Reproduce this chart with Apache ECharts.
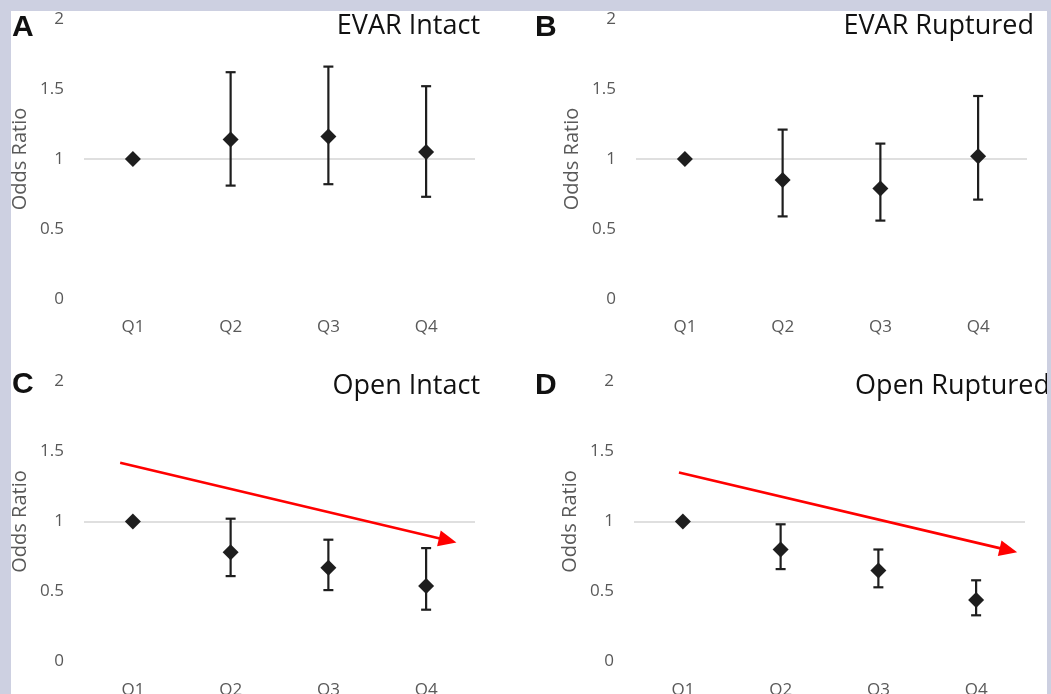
<!DOCTYPE html>
<html>
<head>
<meta charset="utf-8">
<title>Odds Ratio by quartile</title>
<script src="https://cdn.jsdelivr.net/npm/echarts@6/dist/echarts.min.js"></script>
<style>
  html, body { margin: 0; padding: 0; background: #cdd0e1; }
  #main { width: 1051px; height: 694px; }
</style>
</head>
<body>
<div id="main"></div>
<script>
// quartile categories and y axis ticks
const categories = ['Q1', 'Q2', 'Q3', 'Q4'];
const yMin = 0, yMax = 2, yStep = 0.5;

// A - EVAR intact
const evarIntactOR   = [1, 1.14, 1.16, 1.05];
const evarIntactLow  = [null, 0.81, 0.82, 0.73];
const evarIntactHigh = [null, 1.62, 1.66, 1.52];

// B - EVAR ruptured
const evarRupturedOR   = [1, 0.85, 0.79, 1.02];
const evarRupturedLow  = [null, 0.59, 0.56, 0.71];
const evarRupturedHigh = [null, 1.21, 1.11, 1.45];

// C - Open intact
const openIntactOR   = [1, 0.78, 0.67, 0.54];
const openIntactLow  = [null, 0.61, 0.51, 0.37];
const openIntactHigh = [null, 1.02, 0.87, 0.81];

// D - Open ruptured
const openRupturedOR   = [1, 0.80, 0.65, 0.44];
const openRupturedLow  = [null, 0.66, 0.53, 0.33];
const openRupturedHigh = [null, 0.98, 0.80, 0.58];

// red trend arrows: [xStart, yStart, xEnd, yEnd] (x in quartile index units)
const trendArrowC = [-0.13, 1.42, 3.31, 0.85];
const trendArrowD = [-0.04, 1.35, 3.42, 0.78];

const panels = [
  { letter: 'A', title: 'EVAR Intact',   or: evarIntactOR,     low: evarIntactLow,     high: evarIntactHigh,     arrow: null },
  { letter: 'B', title: 'EVAR Ruptured', or: evarRupturedOR,   low: evarRupturedLow,   high: evarRupturedHigh,   arrow: null },
  { letter: 'C', title: 'Open Intact',   or: openIntactOR,     low: openIntactLow,     high: openIntactHigh,     arrow: trendArrowC },
  { letter: 'D', title: 'Open Ruptured', or: openRupturedOR,   low: openRupturedLow,   high: openRupturedHigh,   arrow: trendArrowD }
];

// layout of the four panels
const layout = [
  { grid: { left: 84,  top: 19,    width: 391, height: 280 }, letter: { left: 12,  top: 13 },  titleRight: 571, titleTop: 13 },
  { grid: { left: 636, top: 19,    width: 391, height: 280 }, letter: { left: 535, top: 13 },  titleRight: 17,  titleTop: 13 },
  { grid: { left: 84,  top: 381.5, width: 391, height: 280 }, letter: { left: 12,  top: 370 }, titleRight: 571, titleTop: 373 },
  { grid: { left: 634, top: 381.5, width: 391, height: 280 }, letter: { left: 535, top: 371 }, titleRight: 1,   titleTop: 373 }
];

const FONT = '"Open Sans", "Noto Sans", sans-serif';
const GREY_TEXT = '#595959';
const MARK = '#1e1e1e';

function renderErrorBar(params, api) {
  const x = api.value(0);
  const top = api.coord([x, api.value(2)]);
  const bot = api.coord([x, api.value(1)]);
  const half = 5;
  const style = { stroke: MARK, lineWidth: 2.2 };
  return {
    type: 'group',
    children: [
      { type: 'line', shape: { x1: top[0], y1: top[1], x2: bot[0], y2: bot[1] }, style: style },
      { type: 'line', shape: { x1: top[0] - half, y1: top[1], x2: top[0] + half, y2: top[1] }, style: style },
      { type: 'line', shape: { x1: bot[0] - half, y1: bot[1], x2: bot[0] + half, y2: bot[1] }, style: style }
    ]
  };
}

function renderArrow(params, api) {
  const p0 = api.coord([api.value(0), api.value(1)]);
  const p1 = api.coord([api.value(2), api.value(3)]);
  const dx = p1[0] - p0[0], dy = p1[1] - p0[1];
  const len = Math.sqrt(dx * dx + dy * dy);
  const ux = dx / len, uy = dy / len;
  const headLen = 18, headHalf = 8;
  const bx = p1[0] - ux * headLen, by = p1[1] - uy * headLen;
  return {
    type: 'group',
    children: [
      { type: 'line', shape: { x1: p0[0], y1: p0[1], x2: bx + ux * 2, y2: by + uy * 2 },
        style: { stroke: '#ff0000', lineWidth: 2.6 } },
      { type: 'polygon',
        shape: { points: [[p1[0], p1[1]], [bx - uy * headHalf, by + ux * headHalf], [bx + uy * headHalf, by - ux * headHalf]] },
        style: { fill: '#ff0000' } }
    ]
  };
}

const option = {
  backgroundColor: '#cdd0e1',
  animation: false,
  textStyle: { fontFamily: FONT },
  graphic: [
    { type: 'rect', left: 11, top: 11, shape: { width: 1036, height: 683 }, style: { fill: '#ffffff' }, z: -10 },
    { type: 'rect', left: 1047, top: 0, shape: { width: 4, height: 694 }, style: { fill: '#cdd0e1' }, z: 100 }
  ],
  title: [],
  grid: [],
  xAxis: [],
  yAxis: [],
  series: []
};

panels.forEach(function (p, i) {
  const lay = layout[i];
  option.grid.push(Object.assign({ containLabel: false, outerBoundsMode: 'none' }, lay.grid));

  option.title.push({
    text: p.letter, left: lay.letter.left, top: lay.letter.top, padding: 0,
    textStyle: { fontFamily: '"Liberation Sans", Arial, sans-serif', fontWeight: 'bold', fontSize: 30, color: '#111' }
  });
  option.title.push({
    text: p.title, right: lay.titleRight, top: lay.titleTop, padding: 0,
    textStyle: { fontFamily: FONT, fontWeight: 'normal', fontSize: 27, color: '#111' }
  });

  // category axis (labels) + hidden value axis for the trend arrow
  option.xAxis.push({
    type: 'category', gridIndex: i, data: categories, boundaryGap: true,
    axisLine: { show: false }, axisTick: { show: false }, splitLine: { show: false },
    axisLabel: { color: GREY_TEXT, fontSize: 17, fontFamily: FONT, margin: 20 }
  });
  option.xAxis.push({ type: 'value', gridIndex: i, show: false, min: -0.5, max: 3.5 });

  option.yAxis.push({
    type: 'value', gridIndex: i, min: yMin, max: yMax, interval: yStep,
    name: 'Odds Ratio', nameLocation: 'middle', nameRotate: 90, nameGap: 54,
    nameTextStyle: { color: GREY_TEXT, fontSize: 20, fontFamily: FONT },
    axisLine: { show: false }, axisTick: { show: false }, splitLine: { show: false },
    axisLabel: { color: GREY_TEXT, fontSize: 17, fontFamily: FONT, margin: 20 }
  });

  const catAxis = i * 2;
  const errData = [];
  p.or.forEach(function (v, k) {
    if (p.low[k] != null) errData.push([k, p.low[k], p.high[k]]);
  });

  option.series.push({
    type: 'custom', xAxisIndex: catAxis, yAxisIndex: i,
    renderItem: renderErrorBar, data: errData, encode: { x: 0, y: [1, 2] }, z: 3
  });

  option.series.push({
    type: 'scatter', xAxisIndex: catAxis, yAxisIndex: i,
    data: p.or, symbol: 'diamond', symbolSize: 16,
    itemStyle: { color: MARK, opacity: 1 }, z: 4,
    markLine: {
      silent: true, symbol: 'none', label: { show: false },
      lineStyle: { color: '#d4d4d4', width: 1.5, type: 'solid' },
      data: [{ yAxis: 1 }], z: 1
    }
  });

  if (p.arrow) {
    option.series.push({
      type: 'custom', xAxisIndex: catAxis + 1, yAxisIndex: i,
      renderItem: renderArrow, data: [p.arrow], encode: { x: [0, 2], y: [1, 3] }, z: 5
    });
  }
});

const chart = echarts.init(document.getElementById('main'), null, { renderer: 'canvas' });
chart.setOption(option);
</script>
</body>
</html>
